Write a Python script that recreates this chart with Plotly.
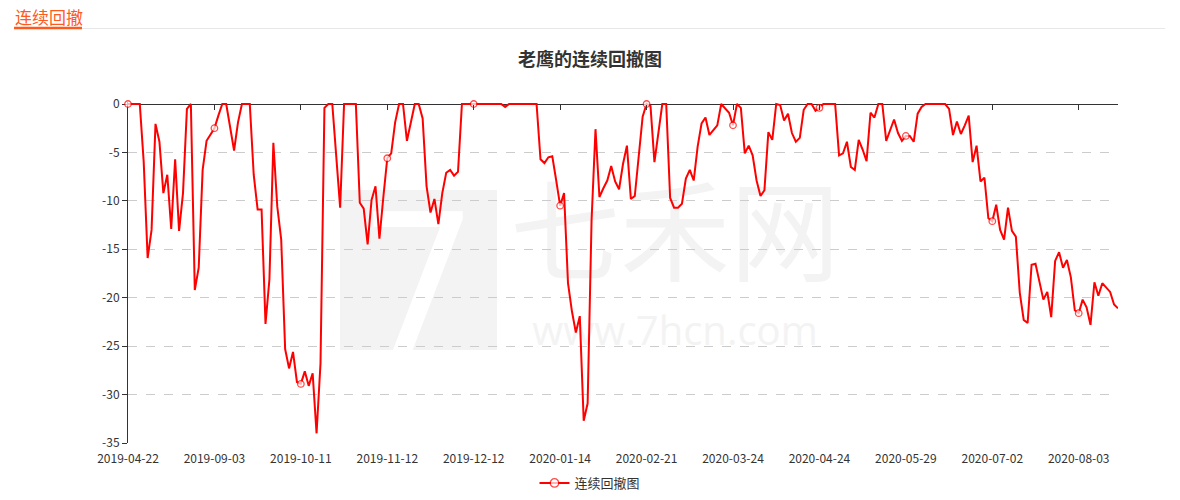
import plotly.graph_objects as go

# ---------------- data ----------------
tick_labels = ["2019-04-22", "2019-09-03", "2019-10-11", "2019-11-12", "2019-12-12",
               "2020-01-14", "2020-02-21", "2020-03-24", "2020-04-24", "2020-05-29",
               "2020-07-02", "2020-08-03"]
label_every = 22  # one tick label every 22 trading points

y_tick_values = [0, -5, -10, -15, -20, -25, -30, -35]
y_tick_text = ["0", "-5", "-10", "-15", "-20", "-25", "-30", "-35"]

series_name = "连续回撤图"
drawdown = [
    0, 0, 0, 0, -6.0, -15.9, -13.0, -2.05, -3.9, -9.2, -7.3, -12.9, -5.7, -13.1, -9.2, -0.5, 0, -19.2, -16.9, -6.8, -3.8, -3.1,
    -2.5, -1.2, 0, 0, -2.4, -4.8, -1.9, 0, 0, 0, -7.3, -10.9, -10.9, -22.7, -18.1, -4.0, -10.6, -14.0, -25.3, -27.3, -25.6, -28.7,
    -28.9, -27.6, -29.1, -27.8, -34.0, -26.8, -0.4, 0, 0, -5.3, -10.7, 0, 0, 0, 0, -10.2, -10.8, -14.5, -9.9, -8.5, -13.9, -9.6,
    -5.6, -5.1, -1.9, 0, 0, -3.8, -1.7, 0, 0, -1.5, -8.5, -11.2, -9.8, -12.4, -9.2, -7.1, -6.8, -7.4, -7.0, 0, 0, 0,
    0, 0, 0, 0, 0, 0, 0, 0, -0.3, 0, 0, 0, 0, 0, 0, 0, 0, -5.7, -6.1, -5.5, -5.4, -7.9,
    -10.5, -9.2, -18.5, -21.4, -23.6, -21.9, -32.7, -30.9, -12.0, -2.6, -9.6, -8.7, -7.9, -6.4, -8.0, -8.8, -6.2, -4.3, -9.8, -9.5, -5.5, -1.3,
    0, -0.2, -6.0, -2.7, 0, 0, -9.7, -10.7, -10.7, -10.3, -7.7, -6.8, -7.9, -4.4, -2.0, -1.4, -3.2, -2.7, -2.2, 0, -0.4, -0.9,
    -2.2, 0, -0.4, -5.1, -4.3, -5.3, -7.9, -9.5, -8.9, -2.9, -3.7, 0, -0.1, -1.7, -1.0, -3.0, -3.9, -3.5, -0.6, 0, 0, -0.7,
    -0.4, 0, 0, 0, 0, -5.3, -5.1, -3.9, -6.5, -6.8, -3.7, -4.7, -5.9, -0.9, -1.4, 0, 0, -3.8, -2.7, -1.6, -3.0, -3.8,
    -3.3, -3.3, -3.9, -1.0, -0.3, 0, 0, 0, 0, 0, 0, -0.5, -3.2, -1.8, -3.1, -2.2, -1.2, -6.0, -4.3, -8.0, -7.6, -11.8,
    -12.1, -10.4, -13.0, -14.0, -10.7, -13.1, -13.7, -19.5, -22.3, -22.6, -16.6, -16.5, -18.3, -20.2, -19.4, -22.0, -16.2, -15.3, -16.9, -16.1, -17.9, -21.3,
    -21.6, -20.2, -21.0, -22.8, -18.4, -19.8, -18.5, -19.0, -19.4, -20.7, -21.1,
]

# ---------------- layout constants ----------------
W, H = 1180, 500
ML, MR, MT, MB = 128, 62, 102, 57
PW, PH = W - ML - MR, H - MT - MB
RED = "#ff0000"
ORANGE = "#ff5a1e"
FONT = "Microsoft YaHei, Noto Sans CJK SC, sans-serif"


def px_x(px):
    return (px - ML) / PW


def px_y(py):
    return (H - MB - py) / PH


x = list(range(len(drawdown)))
tick_positions = x[::label_every]
show = [i % label_every == 0 for i in x]
marker_fill = ["#ffffff" if s else "rgba(0,0,0,0)" for s in show]
marker_edge = [RED if s else "rgba(0,0,0,0)" for s in show]
# visible symbols 6.5px; hidden (transparent) ones sized so the legend symbol is ~8.5px
marker_size = [6.5 if s else 8.6 for s in show]

y_top = 2 * 35 / (PH - 2)  # tiny headroom so the line at 0 is not clipped
zero_pos = 1 - y_top / (35 + y_top)

fig = go.Figure()
fig.add_trace(go.Scatter(
    x=x, y=drawdown, name=series_name, mode="lines+markers",
    line=dict(color=RED, width=2),
    marker=dict(symbol="circle", size=marker_size, color=marker_fill,
                line=dict(color=marker_edge, width=1.3)),
    cliponaxis=False,
))
# invisible helper so the zero-line axis (xaxis2) with its tick marks renders
fig.add_trace(go.Scatter(x=[0], y=[0], xaxis="x2", mode="markers",
                         marker=dict(opacity=0), showlegend=False, hoverinfo="skip"))

fig.update_layout(
    width=W, height=H,
    margin=dict(l=ML, r=MR, t=MT, b=MB, autoexpand=False),
    paper_bgcolor="white", plot_bgcolor="white",
    font=dict(family=FONT, size=12, color="#333"),
    title=dict(text="<b>老鹰的连续回撤图</b>", x=0.5, xref="container", xanchor="center",
               y=1 - 60 / H, yref="container", yanchor="middle",
               font=dict(size=18, color="#333", family=FONT)),
    showlegend=True,
    legend=dict(orientation="h", x=0.5, xref="container", xanchor="center",
                y=1 - 483 / H, yref="container", yanchor="middle",
                font=dict(size=13, color="#333")),
    xaxis=dict(range=[0, len(x) - 1], tickvals=tick_positions, ticktext=tick_labels,
               showgrid=False, zeroline=False, showline=False, automargin=False,
               ticks="outside", ticklen=5, tickcolor="rgba(0,0,0,0)",
               tickfont=dict(size=12, color="#333")),
    xaxis2=dict(overlaying="x", side="top", anchor="free", position=zero_pos,
                range=[0, len(x) - 1], tickvals=tick_positions, showticklabels=False,
                ticks="inside", ticklen=5, tickwidth=1, tickcolor="#333", showline=False,
                showgrid=False, zeroline=False, automargin=False),
    yaxis=dict(range=[-35, y_top], tickvals=y_tick_values, ticktext=y_tick_text,
               showgrid=True, gridcolor="#cccccc", griddash="dash", gridwidth=1,
               zeroline=True, zerolinecolor="#333", zerolinewidth=1,
               showline=True, linecolor="#333", linewidth=1, automargin=False,
               ticks="outside", ticklen=5, tickcolor="#333",
               tickfont=dict(size=12, color="#333"), layer="below traces"),
)

# ---- watermark (below gridlines) ----
WM = "#f3f3f3"
fig.add_shape(type="rect", xref="paper", yref="paper", layer="below",
              x0=px_x(340), x1=px_x(497), y0=px_y(350), y1=px_y(190),
              fillcolor=WM, line=dict(width=0),
              label=dict(text="7", font=dict(size=190, color="white", family="DejaVu Sans"),
                         textposition="middle center"))
fig.add_shape(type="rect", xref="paper", yref="paper", layer="below",
              x0=px_x(505), x1=px_x(845), y0=px_y(305), y1=px_y(180),
              fillcolor="rgba(0,0,0,0)", line=dict(width=0),
              label=dict(text="七禾网", font=dict(size=110, color=WM, family=FONT),
                         textposition="middle center"))
fig.add_shape(type="rect", xref="paper", yref="paper", layer="below",
              x0=px_x(520), x1=px_x(830), y0=px_y(352), y1=px_y(312),
              fillcolor="rgba(0,0,0,0)", line=dict(width=0),
              label=dict(text="www.7hcn.com", font=dict(size=40, color=WM, family="Open Sans"),
                         textposition="middle center"))

# ---- page header ----
fig.add_shape(type="line", xref="paper", yref="paper",
              x0=px_x(14), x1=px_x(1165), y0=px_y(28.5), y1=px_y(28.5),
              line=dict(color="#e8e8e8", width=1))
fig.add_shape(type="line", xref="paper", yref="paper",
              x0=px_x(14), x1=px_x(82), y0=px_y(28), y1=px_y(28),
              line=dict(color=ORANGE, width=2.5))
fig.add_annotation(text="连续回撤", xref="paper", yref="paper",
                   x=px_x(13), y=px_y(16), xanchor="left", yanchor="middle",
                   showarrow=False, font=dict(size=17, color=ORANGE, family=FONT))

fig.write_html("out.html", config={"displayModeBar": False},
               post_script="document.body.style.margin='0';")
